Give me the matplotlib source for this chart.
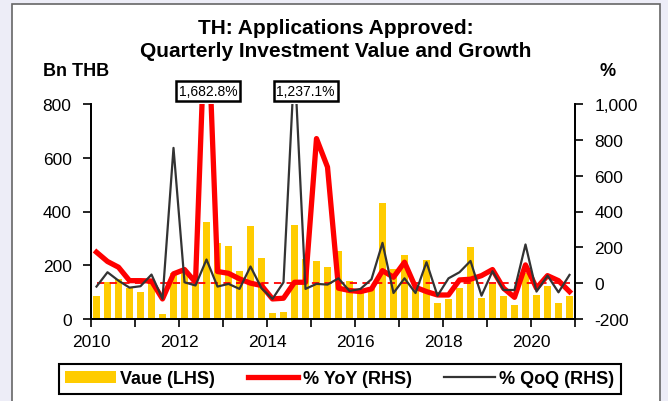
import numpy as np
import matplotlib
matplotlib.use("Agg")
import matplotlib.pyplot as plt
from matplotlib.patches import Rectangle
from matplotlib.ticker import FuncFormatter

plt.rcParams['font.family'] = ['Liberation Sans', 'DejaVu Sans']

# quarterly data 2010Q1 .. 2020Q4
value_bn = [86, 138, 147, 114, 101, 142, 19, 173, 180, 130, 360,
            282, 270, 178, 345, 226, 23, 27, 348, 225, 215,
            194, 252, 142, 99, 117, 431, 185, 237, 111, 220,
            59, 74, 117, 267, 80, 130, 84, 52, 173, 88,
            121, 59, 84]
yoy_pct = [173, 121, 89, 14, 14, 12, -88, 52, 76, 5, 1682.8,
           65, 55, 24, 0, -13, -88, -84, 5, 5, 807,
           648, -28, -41, -47, -32, 70, 33, 117, -23, -47,
           -66, -66, 18, 22, 42, 76, -28, -79, 102, -28,
           42, 14, -47]
qoq_pct = [-19, 61, 14, -25, -17, 48, -88, 755, 5, -13, 132,
           -19, -4, -32, 93, -28, -88, 5, 1237.1, -32, -4,
           -8, 27, -44, -32, 22, 225, -55, 27, -55, 117,
           -70, 27, 61, 124, -70, 67, -38, -38, 216, -47,
           42, -51, 46]
years = list(range(2010, 2022))

x = 2010.125 + 0.25 * np.arange(len(value_bn))

fig = plt.figure(figsize=(6.68, 4.02), dpi=100)
fig.patch.set_facecolor('#ededf7')
# white panel with grey frame
fig.patches.append(Rectangle((12 / 668, -0.02), 648 / 668, 1 - 5 / 402 + 0.02,
                             transform=fig.transFigure, facecolor='white',
                             edgecolor='#666666', lw=1.2, zorder=-5))

ax = fig.add_axes([91 / 668, 1 - 320 / 402, 484 / 668, 215 / 402])
ax.patch.set_alpha(0)
ax2 = ax.twinx()

ax.bar(x, value_bn, width=0.15, color='#ffcc00', zorder=1, label='Vaue (LHS)')
ax2.hlines(0, x[0], x[-1], colors='red', linestyles=(0, (4, 3)), lw=1.3)
ax2.plot(x, yoy_pct, color='red', lw=3.8, label='% YoY (RHS)')
ax2.plot(x, qoq_pct, color='#333333', lw=1.6, label='% QoQ (RHS)')

ax.set_xlim(2010, 2021)
ax.set_ylim(0, 800)
ax2.set_ylim(-200, 1000)
ax.set_yticks(range(0, 801, 200))
ax2.set_yticks(range(-200, 1001, 200))
ax2.yaxis.set_major_formatter(FuncFormatter(lambda v, p: f"{v:,.0f}"))
ax.set_xticks(years)
ax.set_xticklabels([str(y) if y % 2 == 0 else '' for y in years])

for a in (ax, ax2):
    a.spines['top'].set_visible(False)
    for s in a.spines.values():
        s.set_linewidth(1.3)
    a.tick_params(direction='out', length=6, width=1.2, labelsize=12.5, pad=8)
ax.tick_params(axis='x', pad=5)

# peak labels
ax2.annotate('1,682.8%', xy=(x[10], 1.06), xycoords=('data', 'axes fraction'),
             xytext=(1, 0), textcoords='offset points', ha='center', va='center',
             fontsize=10, annotation_clip=False,
             bbox=dict(boxstyle='square,pad=0.2', fc='white', ec='black', lw=1.8))
ax2.annotate('1,237.1%', xy=(x[18], 1.06), xycoords=('data', 'axes fraction'),
             xytext=(8, 0), textcoords='offset points', ha='center', va='center',
             fontsize=10, annotation_clip=False,
             bbox=dict(boxstyle='square,pad=0.2', fc='white', ec='black', lw=1.8))

fig.text(336 / 668, 1 - 40 / 402, 'TH: Applications Approved:\nQuarterly Investment Value and Growth',
         ha='center', va='center', fontsize=15, fontweight='bold', linespacing=1.22)
fig.text(43 / 668, 1 - 72 / 402, 'Bn THB', ha='left', va='center', fontsize=13, fontweight='bold')
fig.text(608 / 668, 1 - 72 / 402, '%', ha='center', va='center', fontsize=13, fontweight='bold')

h1, l1 = ax.get_legend_handles_labels()
h2, l2 = ax2.get_legend_handles_labels()
leg = fig.legend(h1 + h2, l1 + l2, loc='center', bbox_to_anchor=(340 / 668, 1 - 380 / 402),
                 ncol=3, fancybox=False, edgecolor='black', framealpha=1,
                 prop={'weight': 'bold', 'size': 13}, handlelength=2.8,
                 handleheight=0.6, handletextpad=0.25, columnspacing=1.8,
                 borderpad=0.35)
leg.get_frame().set_linewidth(1.5)

fig.savefig('out.png', dpi=100)
